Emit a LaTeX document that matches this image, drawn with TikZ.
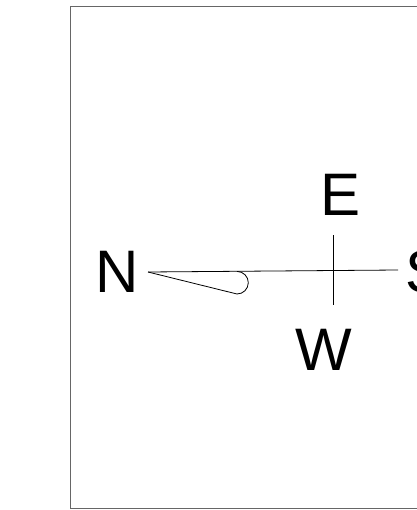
\documentclass[tikz,border=0pt]{standalone}
\usepackage{fontspec}
\setmainfont{Liberation Sans}
\begin{document}
\begin{tikzpicture}[x=1pt,y=-1pt,
  lbl/.style={font=\fontsize{60}{60}\selectfont, inner sep=0pt, anchor=base},
  thin line/.style={line width=0.8pt, black},
  frame/.style={draw=black!60, line width=1pt}]
\useasboundingbox (0,0) rectangle (416,510);
\draw[frame] (70,6.5) rectangle (430,508);
\node[lbl] (N) at (117.5,292) {N};
\node[lbl] (E) at (341,215) {E};
\node[lbl] (W) at (324,370) {W};
\node[lbl, anchor=base west] (S) at (405,292) {S};
\coordinate (tip) at (148,272);
\coordinate (send) at (398,270);
\coordinate (wbot) at (237,294);
\coordinate (vtop) at (333,235);
\coordinate (vbot) at (333,305);
\draw[thin line] (tip) -- (send);
\draw[thin line] (tip) -- (wbot) arc[start angle=90, end angle=-90, radius=11.3];
\draw[thin line] (vtop) -- (vbot);
\end{tikzpicture}
\end{document}
